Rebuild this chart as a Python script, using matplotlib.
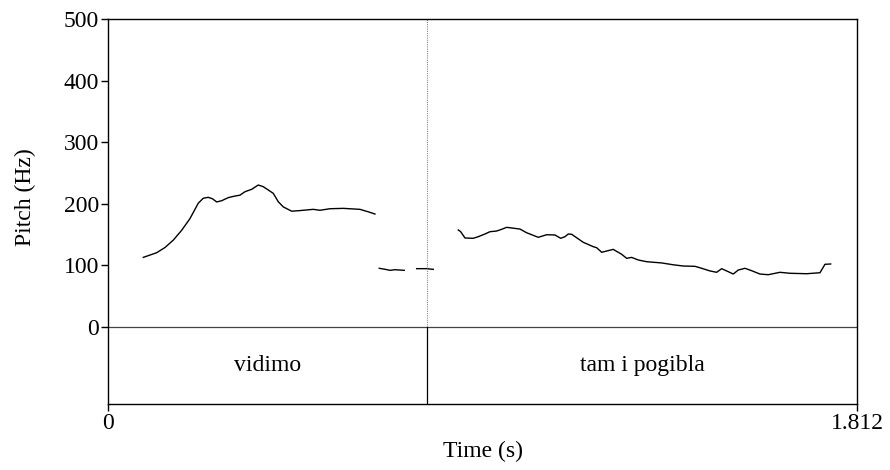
import matplotlib
matplotlib.use("Agg")
import matplotlib.pyplot as plt

plt.rcParams['font.family'] = ['Liberation Serif', 'DejaVu Serif']

# pitch contour pieces (time in s, pitch in Hz)
t1 = [0.0854, 0.1178, 0.1379, 0.158, 0.1783, 0.1984, 0.2185, 0.2305, 0.2426, 0.2533,
      0.263, 0.2751, 0.291, 0.3072, 0.3193, 0.3314, 0.3476, 0.3636, 0.3757, 0.3999,
      0.412, 0.4241, 0.4444, 0.4645, 0.4967, 0.5129, 0.5371, 0.5692, 0.6096, 0.6297, 0.6459]
f1 = [113, 120.6, 129, 141, 157, 176, 201, 209, 210.5, 208,
      203, 205, 210, 212.6, 214, 219.6, 223.5, 230.5, 227.8, 217,
      203.4, 195, 188, 189, 191, 189.5, 192, 192.6, 191, 187, 183.4]

t2 = [0.6563, 0.6701, 0.6822, 0.6943, 0.7168]
f2 = [95.3, 93.7, 92, 93, 92]

t3 = [0.7468, 0.771, 0.787]
f3 = [94.7, 94.7, 93.6]

t4 = [0.8475, 0.8533, 0.8637, 0.8837, 0.8958, 0.912, 0.9241, 0.9403, 0.9524, 0.9645,
      0.9967, 1.0129, 1.041, 1.0613, 1.0814, 1.0952, 1.1056, 1.1136, 1.1218, 1.1498,
      1.174, 1.1823, 1.1944, 1.2224, 1.2428, 1.2548, 1.2669, 1.2829, 1.3032, 1.3395,
      1.3676, 1.3918, 1.4201, 1.4363, 1.4564, 1.4726, 1.4847, 1.5006, 1.5127, 1.5248,
      1.541, 1.5572, 1.5773, 1.5974, 1.6257, 1.6499, 1.6903, 1.7225, 1.7346, 1.7484]
f4 = [157.5, 154.7, 144.5, 144, 146.6, 151, 154.7, 155.8, 158.6, 161.8,
      159, 153, 145.6, 149.8, 149.4, 144, 146.6, 151, 150.5, 137.5,
      130.4, 128.7, 121.3, 126, 118, 111.5, 113, 108.8, 106, 104,
      101, 99, 98.5, 95.3, 91, 88.8, 94.7, 89.8, 86, 92.5,
      95.3, 91.4, 86, 84.9, 88.8, 87.2, 86.5, 88.1, 101.8, 102.3]

# text grid tier
boundary = 0.7717
words = ["vidimo", "tam i pogibla"]
t_end = 1.812

fig = plt.figure(figsize=(8.9, 4.7), dpi=100)
ax = fig.add_axes([0.1213, 0.1404, 0.8416, 0.8192])

for t, f in [(t1, f1), (t2, f2), (t3, f3), (t4, f4)]:
    ax.plot(t, f, color='black', linewidth=1.0, solid_joinstyle='round')

ax.axhline(0, color='#444444', linewidth=0.9)
ax.plot([boundary, boundary], [0, 500], color='#888888', linewidth=0.8, linestyle=(0, (1, 1)))
ax.plot([boundary, boundary], [-125, 0], color='black', linewidth=0.9)

ax.text(boundary / 2, -62.5, words[0], ha='center', va='center', fontsize=17)
ax.text((boundary + t_end) / 2, -62.5, words[1], ha='center', va='center', fontsize=17)

ax.set_xlim(0, t_end)
ax.set_ylim(-125, 500)
ax.set_yticks([0, 100, 200, 300, 400, 500])
ax.set_xticks([0, t_end])
ax.set_xticklabels(["0", "1.812"])
ax.tick_params(axis='both', labelsize=17, length=5, width=1, direction='out', pad=1.5)
for s in ax.spines.values():
    s.set_linewidth(1.0)
    s.set_color('black')

ax.text(-0.1095, 0.538, "Pitch (Hz)", rotation=90, ha='center', va='center',
        fontsize=17, transform=ax.transAxes)
fig.text(0.5424, 1 - 451 / 470, "Time (s)", ha='center', va='center', fontsize=17)

fig.savefig("out.png", dpi=100)
